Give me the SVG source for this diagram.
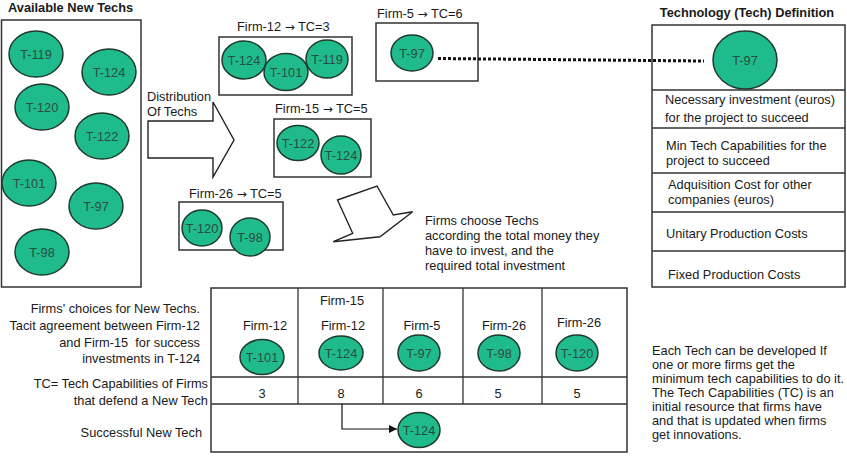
<svg xmlns="http://www.w3.org/2000/svg" width="847" height="456" viewBox="0 0 847 456">
<defs>
<style>
.t{font-family:"Liberation Sans",Arial,sans-serif;font-size:12.8px;fill:#1a1a1a}
.b{font-weight:bold}
.m{text-anchor:middle}
.e{text-anchor:end}
.ar{font-family:"DejaVu Sans",sans-serif;font-size:12px}
.c{fill:#1fbb8c;stroke:#1e3a2e;stroke-width:1.5}
.ct{font-family:"Liberation Sans",Arial,sans-serif;font-size:12.7px;fill:#2b4d3f;text-anchor:middle}
.box{fill:#fff;stroke:#333;stroke-width:1.5}
.ln{fill:none;stroke:#333;stroke-width:1.3}
.blk{fill:#fff;stroke:#222;stroke-width:1.4;stroke-linejoin:miter}
</style>
<marker id="ah" viewBox="0 0 10 10" refX="10" refY="5" markerWidth="8" markerHeight="8" markerUnits="userSpaceOnUse" orient="auto">
<path d="M0,0 L10,5 L0,10 z" fill="#111"/>
</marker>
</defs>
<rect width="847" height="456" fill="#fff"/>

<g id="available-techs">
<text class="t b" x="8" y="12">Available New Techs</text>
<rect class="box" x="1.5" y="20" width="139.5" height="267"/>
<g id="av-t119"><ellipse class="c" cx="36" cy="54" rx="27" ry="23"/><text class="ct" x="36" y="58.5">T-119</text></g>
<g id="av-t124"><ellipse class="c" cx="109" cy="72" rx="27" ry="23"/><text class="ct" x="109" y="76.5">T-124</text></g>
<g id="av-t120"><ellipse class="c" cx="42" cy="107" rx="27" ry="23"/><text class="ct" x="42" y="111.5">T-120</text></g>
<g id="av-t122"><ellipse class="c" cx="102" cy="136" rx="27" ry="23"/><text class="ct" x="102" y="140.5">T-122</text></g>
<g id="av-t101"><ellipse class="c" cx="29" cy="183" rx="27" ry="23"/><text class="ct" x="29" y="187.5">T-101</text></g>
<g id="av-t97"><ellipse class="c" cx="96" cy="206" rx="27" ry="23"/><text class="ct" x="96" y="210.5">T-97</text></g>
<g id="av-t98"><ellipse class="c" cx="42" cy="252" rx="27" ry="23"/><text class="ct" x="42" y="256.5">T-98</text></g>
</g>

<g id="distribution-label">
<text class="t" x="147" y="101">Distribution</text>
<text class="t" x="147" y="116">Of Techs</text>
</g>

<g id="firm12">
<text class="t" x="237" y="31">Firm-12 <tspan class="ar">→</tspan> TC=3</text>
<rect class="box" x="219" y="37" width="133" height="58"/>
<ellipse class="c" cx="244" cy="60" rx="22" ry="19"/><text class="ct" x="244" y="64.5">T-124</text>
<ellipse class="c" cx="286" cy="72" rx="22" ry="18.5"/><text class="ct" x="286" y="76.5">T-101</text>
<ellipse class="c" cx="327" cy="59" rx="21" ry="19"/><text class="ct" x="327" y="63.5">T-119</text>
</g>

<g id="firm15">
<text class="t" x="275" y="113">Firm-15 <tspan class="ar">→</tspan> TC=5</text>
<rect class="box" x="274" y="119" width="97" height="58"/>
<ellipse class="c" cx="298" cy="143" rx="21" ry="17.5"/><text class="ct" x="298" y="147.5">T-122</text>
<ellipse class="c" cx="341" cy="155" rx="20" ry="19"/><text class="ct" x="341" y="159.5">T-124</text>
</g>

<g id="firm26">
<text class="t" x="189" y="198">Firm-26 <tspan class="ar">→</tspan> TC=5</text>
<rect class="box" x="179" y="202" width="104" height="48"/>
<ellipse class="c" cx="202" cy="228" rx="20" ry="18"/><text class="ct" x="202" y="232.5">T-120</text>
<ellipse class="c" cx="250" cy="237" rx="20" ry="19"/><text class="ct" x="250" y="241.5">T-98</text>
</g>

<g id="firm5">
<text class="t" x="377" y="18">Firm-5 <tspan class="ar">→</tspan> TC=6</text>
<rect class="box" x="376" y="23" width="102" height="58"/>
<ellipse class="c" cx="412" cy="53" rx="21" ry="18"/><text class="ct" x="412" y="57.5">T-97</text>
</g>

<g id="tech-definition">
<text class="t b m" x="747" y="17">Technology (Tech) Definition</text>
<rect class="box" x="652" y="25" width="193" height="262"/>
<line class="ln" x1="652" y1="90" x2="845" y2="90"/>
<line class="ln" x1="652" y1="128" x2="845" y2="128"/>
<line class="ln" x1="652" y1="173" x2="845" y2="173"/>
<line class="ln" x1="652" y1="212" x2="845" y2="212"/>
<line class="ln" x1="652" y1="251" x2="845" y2="251"/>
<ellipse class="c" cx="745" cy="60" rx="32" ry="29"/><text class="ct" x="745" y="64.5">T-97</text>
<text class="t" x="665" y="104">Necessary investment (euros)</text>
<text class="t" x="665" y="122">for the project to succeed</text>
<text class="t" x="666" y="150">Min Tech Capabilities for the</text>
<text class="t" x="666" y="164.5">project to succeed</text>
<text class="t" x="668" y="189">Adquisition Cost for other</text>
<text class="t" x="668" y="204">companies (euros)</text>
<text class="t" x="666" y="238">Unitary Production Costs</text>
<text class="t" x="668" y="279">Fixed Production Costs</text>
</g>

<g id="choose-note">
<text class="t" x="425" y="225">Firms choose Techs</text>
<text class="t" x="425" y="240">according the total money they</text>
<text class="t" x="425" y="255">have to invest, and the</text>
<text class="t" x="425" y="270">required total investment</text>
</g>

<g id="row-labels">
<text class="t e" x="200" y="312.5">Firms' choices for New Techs.</text>
<text class="t e" x="200" y="329.5">Tacit agreement between Firm-12</text>
<text class="t e" x="200" y="346.5" style="white-space:pre">and Firm-15  for success</text>
<text class="t e" x="200" y="362.5">investments in T-124</text>
<text class="t e" x="208" y="387.5">TC= Tech Capabilities of Firms</text>
<text class="t e" x="208" y="405">that defend a New Tech</text>
<text class="t e" x="202" y="436.5">Successful New Tech</text>
</g>

<g id="choices-table">
<rect class="box" x="211" y="288" width="416" height="164"/>
<line class="ln" x1="211" y1="377" x2="627" y2="377"/>
<line class="ln" x1="211" y1="404" x2="627" y2="404"/>
<line class="ln" x1="298" y1="288" x2="298" y2="404"/>
<line class="ln" x1="383" y1="288" x2="383" y2="404"/>
<line class="ln" x1="463" y1="288" x2="463" y2="404"/>
<line class="ln" x1="542" y1="288" x2="542" y2="404"/>
</g>

<g id="col-firm12">
<text class="t m" x="265" y="329.5">Firm-12</text>
<ellipse class="c" cx="262" cy="357" rx="22" ry="17.5"/><text class="ct" x="262" y="361.5">T-101</text>
<text class="t m" x="262" y="398">3</text>
</g>
<g id="col-firm15-12">
<text class="t m" x="342" y="304.5">Firm-15</text>
<text class="t m" x="343" y="329.5">Firm-12</text>
<ellipse class="c" cx="341" cy="353" rx="22" ry="17"/><text class="ct" x="341" y="357.5">T-124</text>
<text class="t m" x="341" y="398">8</text>
</g>
<g id="col-firm5">
<text class="t m" x="422" y="330">Firm-5</text>
<ellipse class="c" cx="419" cy="353" rx="21" ry="18"/><text class="ct" x="419" y="357.5">T-97</text>
<text class="t m" x="419" y="398">6</text>
</g>
<g id="col-firm26a">
<text class="t m" x="504" y="330">Firm-26</text>
<ellipse class="c" cx="499" cy="353" rx="21" ry="18"/><text class="ct" x="499" y="357.5">T-98</text>
<text class="t m" x="498" y="398">5</text>
</g>
<g id="col-firm26b">
<text class="t m" x="579" y="327">Firm-26</text>
<ellipse class="c" cx="577" cy="353" rx="21" ry="18"/><text class="ct" x="577" y="357.5">T-120</text>
<text class="t m" x="577" y="398">5</text>
</g>
<g id="successful-t124">
<ellipse class="c" cx="419" cy="430" rx="21" ry="17.5"/><text class="ct" x="419" y="434.5">T-124</text>
</g>

<g id="explain-note">
<text class="t" x="652" y="355">Each Tech can be developed If</text>
<text class="t" x="652" y="369">one or more firms get the</text>
<text class="t" x="652" y="383">minimum tech capabilities to do it.</text>
<text class="t" x="652" y="397">The Tech Capabilities (TC) is an</text>
<text class="t" x="652" y="411">initial resource that firms have</text>
<text class="t" x="652" y="425">and that is updated when firms</text>
<text class="t" x="652" y="439">get innovations.</text>
</g>

<g id="connectors">
<polygon class="blk" points="148,121 213,121 213,102 234,140 213,177 213,158 148,158"/>
<polygon class="blk" points="337.5,200 377,186 393.3,215 412.7,211.7 380,236.7 333.3,241.7 352.7,233.3"/>
<line x1="438" y1="58.5" x2="704" y2="61" stroke="#111" stroke-width="3" stroke-dasharray="3 2"/>
<path d="M342,404 V429 H397" fill="none" stroke="#111" stroke-width="1.2" marker-end="url(#ah)"/>
</g>
</svg>
